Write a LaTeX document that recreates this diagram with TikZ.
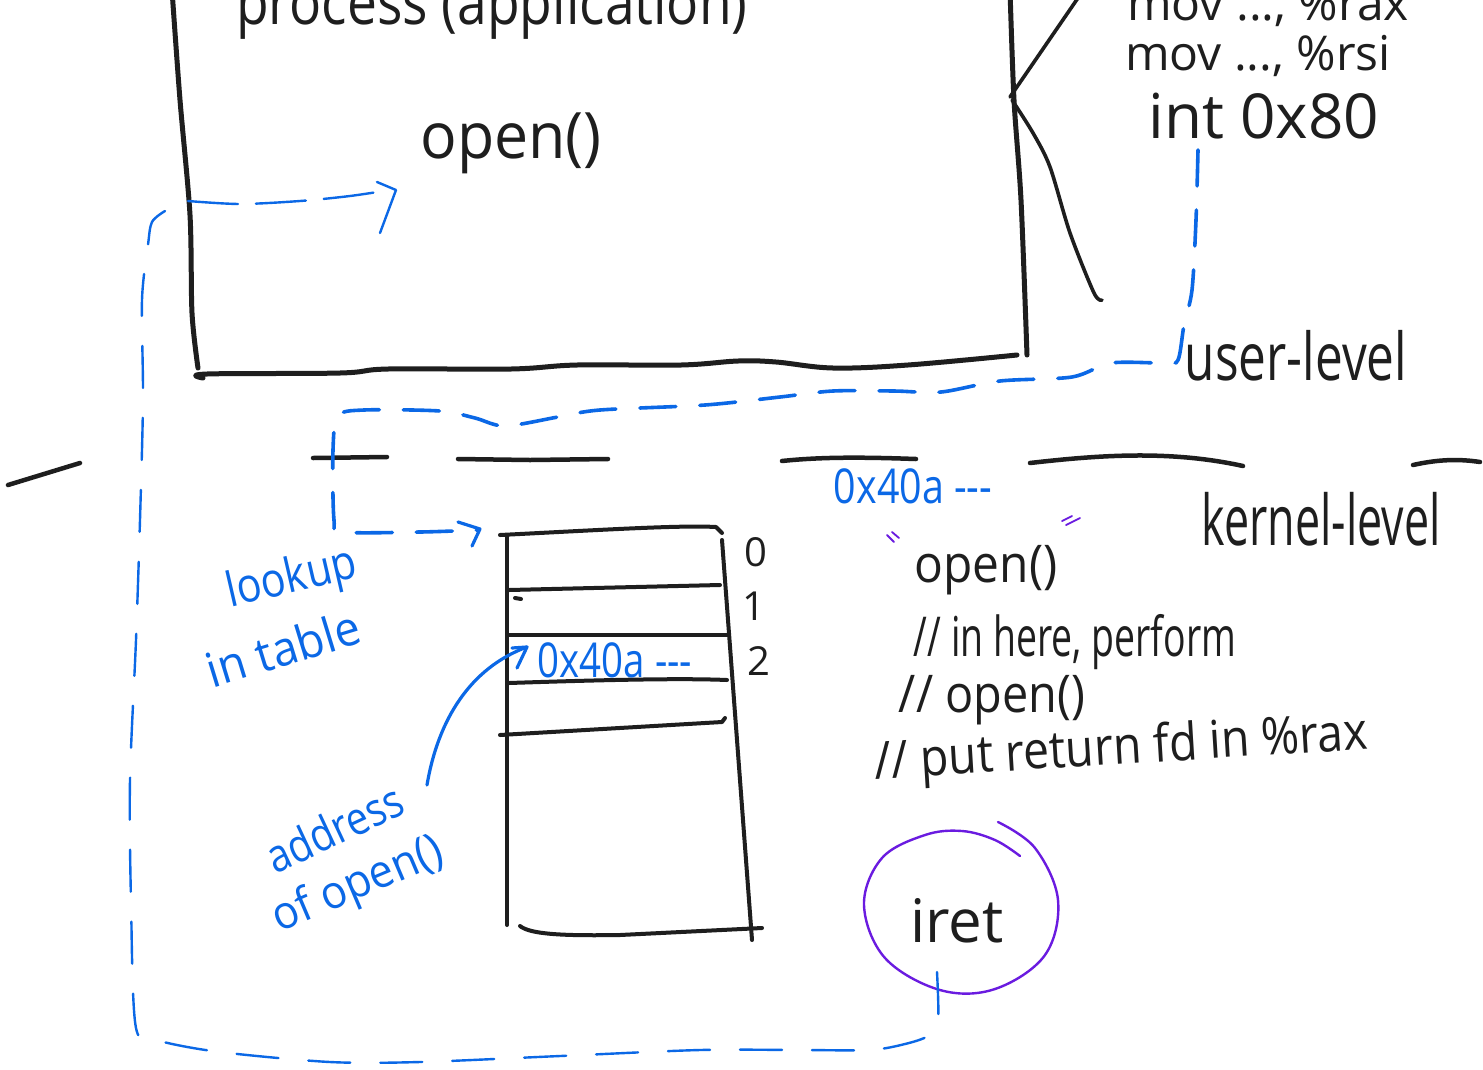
\documentclass[tikz,border=0pt]{standalone}
\usepackage{fontspec}
\setmainfont{Open Sans}
\definecolor{ink}{HTML}{1E1E1E}
\definecolor{hblue}{HTML}{0B68E6}
\definecolor{hpurple}{HTML}{6A1BE0}
\begin{document}
\begin{tikzpicture}[x=1pt,y=-1pt,
  hw/.style={font=\fontsize{#1}{#1}\selectfont, inner sep=0pt, outer sep=0pt, anchor=base, text=ink},
  hwc/.style={font=\fontsize{#1}{#1}\selectfont, inner sep=0pt, outer sep=0pt, anchor=center, text=hblue},
  blk/.style={draw=ink, line width=5pt, line cap=round, line join=round},
  tbl/.style={draw=ink, line width=4pt, line cap=round, line join=round},
  thinblk/.style={draw=ink, line width=3.6pt, line cap=round, line join=round},
  bdash/.style={draw=hblue, line width=3.6pt, line cap=round, dash pattern=on 36pt off 24pt},
  bthin/.style={draw=hblue, line width=2.4pt, line cap=round, dash pattern=on 42pt off 30pt},
  bsolid/.style={draw=hblue, line width=3.2pt, line cap=round, line join=round},
  bthinsolid/.style={draw=hblue, line width=2.4pt, line cap=round, line join=round},
  purp/.style={draw=hpurple, line width=2.4pt, line cap=round, line join=round}]
\useasboundingbox (0,0) rectangle (1483,1069);
\fill[white] (0,0) rectangle (1483,1069);
\clip (0,0) rectangle (1483,1069);

% ---- user process box ----
\draw[blk] plot[smooth] coordinates {(172,-10) (180,100) (190,215) (192,313) (198,368)};
\draw[blk] plot[smooth, tension=.6] coordinates {(203,378) (207,374) (340,373) (388,369) (511,369) (577,365) (681,365) (738,361) (776,362) (833,368) (908,365) (1017,355)};
\draw[blk] plot[smooth] coordinates {(1010,-10) (1014,100) (1021,200) (1027,355)};
\draw[thinblk] (1010,97) -- (1080,-5);
\draw[thinblk] plot[smooth] coordinates {(1012,100) (1033,133) (1050,167) (1070,233) (1094,293) (1102,300)};

\node[hw=62, xscale=.86] (proc) at (492,24) {process (application)};
\node[hw=64, xscale=.95] (openu) at (511,158) {open()};

\node[hw=48] (mov1) at (1268,20) {mov ..., \%rax};
\node[hw=48] (mov2) at (1258,70) {mov ..., \%rsi};
\node[hw=62] (int) at (1264,138) {int 0x80};
\node[hw=66, xscale=.75] (user) at (1296,380) {user-level};

% ---- separator ----
\draw[blk, line width=4.5pt] (8,485) -- (80,463);
\draw[blk, line width=4.5pt] (313,458) -- (387,457);
\draw[blk, line width=4.5pt] (458,459) -- (530,460) -- (608,459);
\draw[blk, line width=4.5pt] (782,461) .. controls (820,457) and (860,457) .. (916,459);
\draw[blk, line width=4.5pt] (1030,463) .. controls (1100,455) and (1170,450) .. (1243,466);
\draw[blk, line width=4.5pt] (1413,465) .. controls (1440,459) and (1460,459) .. (1480,462);

\node[hw=70, xscale=.64] (kern) at (1321,545) {kernel-level};

% ---- table ----
\draw[tbl] (507,535) -- (507,925);
\draw[tbl] (722,540) -- (752,940);
\draw[tbl] (500,535) .. controls (600,530) and (680,525) .. (716,527) -- (722,533);
\draw[tbl] (509,590) -- (720,585);
\draw[tbl] (515,598) -- (521,599);
\draw[tbl] (509,635) -- (727,635);
\draw[tbl] (509,683) .. controls (600,680) and (680,678) .. (727,680);
\draw[tbl] (500,735) -- (722,722) -- (725,718);
\draw[tbl] (520,926) .. controls (530,934) and (560,936) .. (620,935) -- (762,928);

\node[hw=40] (i0) at (756,566) {0};
\node[hw=40] (i1) at (754,620) {1};
\node[hw=40] (i2) at (759,675) {2};

\node[hw=48, xscale=.8, text=hblue] (addr2) at (615,677) {0x40a -{}-{}-};
\node[hw=48, xscale=.82, text=hblue] (addr1) at (913,503) {0x40a -{}-{}-};

\node[hwc=48, rotate=13, xscale=.86] (look) at (292,580) {lookup};
\node[hwc=48, rotate=17, xscale=.95] (intab) at (283,648) {in table};
\node[hwc=46, rotate=25, xscale=.86] (adr) at (334,828) {address};
\node[hwc=46, rotate=23, xscale=.94] (ofop) at (358,886) {of open()};

% arrow address -> table entry
\coordinate (aS) at (427,785);
\coordinate (aE) at (527,647);
\draw[bsolid] (aS) .. controls (438,720) and (470,668) .. (aE);
\draw[bsolid] (512,648) -- (aE) -- (517,668);

% ---- kernel text ----
\node[hw=52, xscale=.92] (kopen) at (986,582) {open()};
\node[hw=55, xscale=.68] (c1) at (1075,656) {// in here, perform};
\node[hw=52, xscale=.9] (c2) at (992,712) {// open()};
\node[hw=52, rotate=3.5, xscale=.89] (c3) at (1122,764) {// put return fd in \%rax};

% purple quote marks
\draw[purp, line width=1.8pt] (887,535) -- (894,542) (892,532) -- (899,538);
\draw[purp, line width=1.8pt] (1062,521) -- (1072,516) (1066,525) -- (1080,518);

% iret circle
\node[hw=60] (iret) at (957,942) {iret};
\draw[purp] plot[smooth, tension=.6] coordinates {(998,822) (1035,848) (1058,900) (1045,955) (995,989) (940,990) (885,958) (864,905) (882,858) (925,835) (962,831) (995,840) (1020,856)};

% ---- blue dashed: int 0x80 -> table ----
\draw[bdash] plot[smooth, tension=.5] coordinates {(1198,150) (1196,220) (1192,290) (1184,325) (1178,360) (1165,363) (1111,363) (1072,377) (1000,381) (941,392) (894,391) (833,391) (780,397) (705,405) (600,410) (558,417) (505,426) (475,418) (440,411) (364,410) (338,416) (333,450) (334,520) (342,532) (420,532) (478,530)};
\draw[bsolid] (458,522) -- (480,529) -- (472,546);

% ---- blue dashed loop: iret -> user open() ----
\coordinate (iretB) at (937,972);
\draw[bthin] plot[smooth, tension=.5] coordinates {(iretB) (938,1022) (928,1036) (905,1044) (870,1050) (800,1050) (700,1050) (560,1056) (420,1062) (330,1062) (220,1052) (160,1041) (136,1028) (131,900) (130,780) (136,640) (140,520) (143,400) (142,300) (148,245) (152,222) (165,211)};
\draw[bthin, dash pattern=on 50pt off 18pt] plot[smooth] coordinates {(188,201) (240,204) (300,201) (350,196) (390,190)};
\draw[bthinsolid] (377,182) -- (396,190) -- (380,233);
\end{tikzpicture}
\end{document}
